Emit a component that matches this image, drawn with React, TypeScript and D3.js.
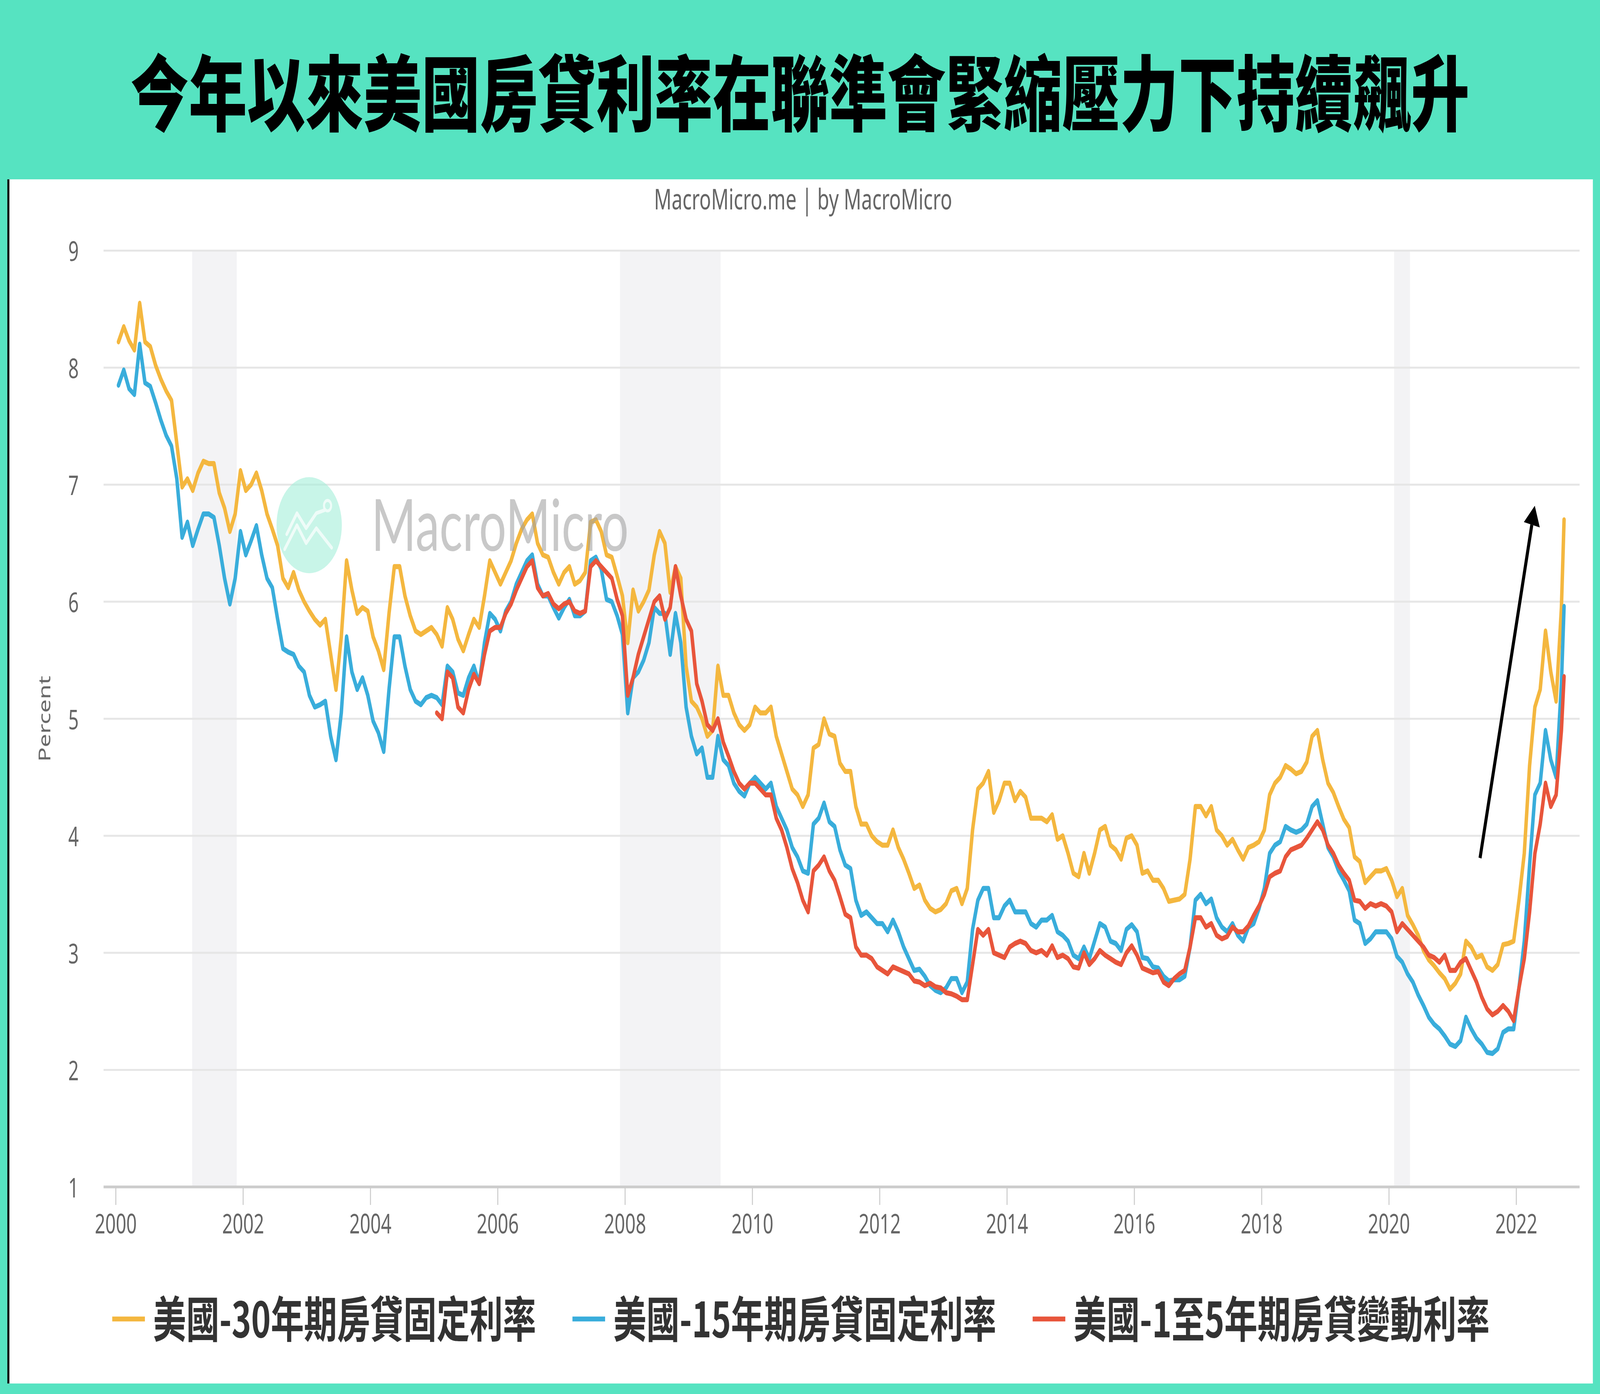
import React from 'react'
import * as d3 from 'd3'

// Freddie Mac PMMS monthly readings (mid-month)
const rate30 = [
  8.22, 8.35, 8.23, 8.15, 8.55, 8.22, 8.18, 8.02, 7.9, 7.8, 7.72, 7.35, // 2000
  6.98, 7.05, 6.95, 7.1, 7.2, 7.18, 7.18, 6.93, 6.8, 6.6, 6.75, 7.12, // 2001
  6.95, 7.0, 7.1, 6.95, 6.75, 6.62, 6.48, 6.2, 6.12, 6.25, 6.1, 6.0, // 2002
  5.92, 5.85, 5.8, 5.85, 5.55, 5.25, 5.7, 6.35, 6.1, 5.9, 5.95, 5.92, // 2003
  5.7, 5.58, 5.42, 5.9, 6.3, 6.3, 6.05, 5.88, 5.75, 5.72, 5.75, 5.78, // 2004
  5.72, 5.62, 5.95, 5.85, 5.68, 5.58, 5.72, 5.85, 5.78, 6.05, 6.35, 6.25, // 2005
  6.15, 6.25, 6.35, 6.5, 6.62, 6.7, 6.75, 6.5, 6.4, 6.38, 6.25, 6.15, // 2006
  6.25, 6.3, 6.15, 6.18, 6.25, 6.68, 6.7, 6.6, 6.4, 6.38, 6.22, 6.05, // 2007
  5.65, 6.1, 5.92, 6.0, 6.1, 6.4, 6.6, 6.5, 6.08, 6.3, 6.2, 5.45, // 2008
  5.15, 5.1, 5.0, 4.85, 4.9, 5.45, 5.2, 5.2, 5.05, 4.95, 4.9, 4.95, // 2009
  5.1, 5.05, 5.05, 5.1, 4.85, 4.7, 4.55, 4.4, 4.35, 4.25, 4.35, 4.75, // 2010
  4.78, 5.0, 4.87, 4.85, 4.62, 4.55, 4.55, 4.25, 4.1, 4.1, 4.0, 3.95, // 2011
  3.92, 3.92, 4.05, 3.9, 3.8, 3.68, 3.55, 3.58, 3.45, 3.38, 3.35, 3.37, // 2012
  3.42, 3.53, 3.55, 3.42, 3.55, 4.05, 4.4, 4.45, 4.55, 4.2, 4.3, 4.45, // 2013
  4.45, 4.3, 4.38, 4.33, 4.15, 4.15, 4.15, 4.12, 4.18, 3.97, 4.0, 3.85, // 2014
  3.68, 3.65, 3.85, 3.68, 3.85, 4.05, 4.08, 3.92, 3.88, 3.8, 3.98, 4.0, // 2015
  3.92, 3.68, 3.7, 3.62, 3.62, 3.55, 3.44, 3.45, 3.46, 3.5, 3.8, 4.25, // 2016
  4.25, 4.17, 4.25, 4.05, 4.0, 3.92, 3.97, 3.88, 3.8, 3.9, 3.92, 3.95, // 2017
  4.05, 4.35, 4.45, 4.5, 4.6, 4.57, 4.53, 4.55, 4.63, 4.85, 4.9, 4.65, // 2018
  4.45, 4.37, 4.25, 4.14, 4.07, 3.82, 3.78, 3.6, 3.65, 3.7, 3.7, 3.72, // 2019
  3.62, 3.48, 3.55, 3.32, 3.24, 3.15, 3.02, 2.94, 2.89, 2.83, 2.78, 2.69, // 2020
  2.74, 2.82, 3.1, 3.05, 2.96, 2.98, 2.88, 2.85, 2.9, 3.07, 3.08, 3.1, // 2021
  3.45, 3.85, 4.6, 5.1, 5.25, 5.75, 5.4, 5.15, 5.95, // 2022
]

const rate15 = [
  7.85, 7.98, 7.82, 7.77, 8.2, 7.87, 7.84, 7.7, 7.55, 7.42, 7.33, 7.05, // 2000
  6.55, 6.68, 6.48, 6.62, 6.75, 6.75, 6.72, 6.48, 6.2, 5.98, 6.2, 6.6, // 2001
  6.4, 6.52, 6.65, 6.4, 6.2, 6.12, 5.85, 5.6, 5.57, 5.55, 5.45, 5.4, // 2002
  5.2, 5.1, 5.12, 5.15, 4.85, 4.65, 5.05, 5.7, 5.4, 5.25, 5.35, 5.2, // 2003
  4.98, 4.88, 4.72, 5.25, 5.7, 5.7, 5.45, 5.25, 5.15, 5.12, 5.18, 5.2, // 2004
  5.18, 5.12, 5.45, 5.4, 5.22, 5.2, 5.35, 5.45, 5.3, 5.65, 5.9, 5.85, // 2005
  5.75, 5.92, 6.0, 6.15, 6.25, 6.35, 6.4, 6.15, 6.05, 6.05, 5.95, 5.86, // 2006
  5.95, 6.02, 5.88, 5.88, 5.92, 6.35, 6.38, 6.28, 6.02, 6.0, 5.88, 5.72, // 2007
  5.05, 5.35, 5.4, 5.5, 5.65, 5.95, 5.9, 5.9, 5.55, 5.9, 5.65, 5.1, // 2008
  4.85, 4.7, 4.75, 4.5, 4.5, 4.85, 4.65, 4.6, 4.45, 4.38, 4.34, 4.45, // 2009
  4.5, 4.45, 4.4, 4.45, 4.25, 4.15, 4.05, 3.9, 3.82, 3.7, 3.68, 4.1, // 2010
  4.15, 4.28, 4.12, 4.08, 3.88, 3.75, 3.72, 3.45, 3.32, 3.35, 3.3, 3.25, // 2011
  3.25, 3.18, 3.28, 3.18, 3.05, 2.95, 2.85, 2.86, 2.8, 2.72, 2.68, 2.66, // 2012
  2.7, 2.78, 2.78, 2.66, 2.75, 3.2, 3.45, 3.55, 3.55, 3.3, 3.3, 3.4, // 2013
  3.45, 3.35, 3.35, 3.35, 3.25, 3.22, 3.28, 3.28, 3.32, 3.18, 3.15, 3.1, // 2014
  2.98, 2.95, 3.05, 2.95, 3.1, 3.25, 3.22, 3.1, 3.08, 3.02, 3.2, 3.24, // 2015
  3.18, 2.96, 2.95, 2.88, 2.87, 2.8, 2.76, 2.77, 2.77, 2.8, 3.05, 3.45, // 2016
  3.5, 3.42, 3.46, 3.3, 3.22, 3.18, 3.25, 3.15, 3.1, 3.22, 3.25, 3.38, // 2017
  3.55, 3.85, 3.92, 3.95, 4.08, 4.05, 4.03, 4.05, 4.1, 4.25, 4.3, 4.1, // 2018
  3.9, 3.82, 3.7, 3.62, 3.53, 3.28, 3.25, 3.08, 3.12, 3.18, 3.18, 3.18, // 2019
  3.12, 2.97, 2.92, 2.82, 2.75, 2.64, 2.55, 2.45, 2.39, 2.35, 2.29, 2.22, // 2020
  2.2, 2.25, 2.45, 2.35, 2.27, 2.22, 2.15, 2.14, 2.18, 2.32, 2.35, 2.35, // 2021
  2.7, 3.1, 3.75, 4.35, 4.45, 4.9, 4.65, 4.5, 5.3, // 2022
]

// 5/1 ARM series starts in January 2005
const rateArm = [
  5.05, 5.0, 5.4, 5.35, 5.1, 5.05, 5.25, 5.38, 5.3, 5.55, 5.75, 5.78, // 2005
  5.78, 5.9, 5.98, 6.1, 6.2, 6.3, 6.35, 6.12, 6.05, 6.07, 5.98, 5.94, // 2006
  5.98, 6.0, 5.92, 5.9, 5.92, 6.3, 6.35, 6.3, 6.25, 6.2, 6.02, 5.88, // 2007
  5.2, 5.35, 5.55, 5.7, 5.85, 6.0, 6.05, 5.85, 5.95, 6.3, 6.05, 5.85, // 2008
  5.75, 5.3, 5.15, 4.95, 4.9, 5.0, 4.8, 4.68, 4.55, 4.45, 4.4, 4.45, // 2009
  4.45, 4.4, 4.35, 4.35, 4.15, 4.05, 3.9, 3.72, 3.6, 3.45, 3.35, 3.7, // 2010
  3.75, 3.82, 3.7, 3.62, 3.48, 3.33, 3.3, 3.05, 2.98, 2.98, 2.95, 2.88, // 2011
  2.85, 2.82, 2.88, 2.86, 2.84, 2.82, 2.76, 2.75, 2.72, 2.74, 2.71, 2.7, // 2012
  2.66, 2.65, 2.63, 2.6, 2.6, 2.9, 3.2, 3.15, 3.2, 3.0, 2.98, 2.96, // 2013
  3.05, 3.08, 3.1, 3.08, 3.02, 3.0, 3.02, 2.98, 3.06, 2.96, 2.98, 2.95, // 2014
  2.88, 2.87, 3.0, 2.9, 2.95, 3.02, 2.98, 2.95, 2.92, 2.9, 3.0, 3.06, // 2015
  2.98, 2.87, 2.85, 2.83, 2.84, 2.75, 2.72, 2.78, 2.82, 2.85, 3.05, 3.3, // 2016
  3.3, 3.22, 3.25, 3.15, 3.12, 3.14, 3.22, 3.18, 3.18, 3.23, 3.32, 3.4, // 2017
  3.5, 3.65, 3.68, 3.7, 3.82, 3.88, 3.9, 3.92, 3.98, 4.05, 4.12, 4.05, // 2018
  3.92, 3.85, 3.75, 3.68, 3.62, 3.45, 3.44, 3.38, 3.42, 3.4, 3.42, 3.4, // 2019
  3.35, 3.18, 3.25, 3.2, 3.15, 3.1, 3.05, 2.98, 2.96, 2.92, 2.98, 2.85, // 2020
  2.85, 2.92, 2.95, 2.85, 2.75, 2.62, 2.52, 2.47, 2.5, 2.55, 2.5, 2.42, // 2021
  2.7, 2.95, 3.35, 3.85, 4.1, 4.45, 4.25, 4.35, 4.9, // 2022
]

// last weekly print (end of September 2022)
const lastDate = 2022.75
const lastValues = [6.7, 5.96, 5.36]

const seriesNames = ['美國-30年期房貸固定利率', '美國-15年期房貸固定利率', '美國-1至5年期房貸變動利率']
const seriesColors = ['#f4b73f', '#39addb', '#e8553b']
const seriesStart = [2000, 2000, 2005]

const recessions = [
  [2001.2, 2001.9],
  [2007.92, 2009.5],
  [2020.08, 2020.33],
]

const yearTicks = [2000, 2002, 2004, 2006, 2008, 2010, 2012, 2014, 2016, 2018, 2020, 2022]
const yTicks = [1, 2, 3, 4, 5, 6, 7, 8, 9]

const W = 1568
const H = 929
const GREEN = '#56e3c1'
const sans = '"Noto Sans", "Open Sans", sans-serif'
const cjk = '"Noto Sans CJK TC", "Noto Sans CJK SC", sans-serif'

const x = d3.scaleLinear().domain([2000, 2022]).range([113.5, 1486])
const y = d3.scaleLinear().domain([1, 9]).range([791, 167])

type Pt = { t: number; v: number }

const toPoints = (vals: number[], start: number, last: number): Pt[] => {
  const pts = vals.map((v, i) => ({ t: start + (i + 0.5) / 12, v }))
  pts.push({ t: lastDate, v: last })
  return pts
}

const allSeries = [rate30, rate15, rateArm].map((vals, i) => toPoints(vals, seriesStart[i], lastValues[i]))

const line = d3
  .line<Pt>()
  .x((d) => x(d.t))
  .y((d) => y(d.v))

export default function App() {
  const legendX = [110, 561, 1012]

  // annotation arrow in data coordinates
  const a0 = [x(2021.43), y(3.81)]
  const a1 = [x(2022.29), y(6.82)]
  const ang = Math.atan2(a1[1] - a0[1], a1[0] - a0[0])
  const headLen = 13
  const headW = 8
  const hb = [a1[0] - headLen * Math.cos(ang), a1[1] - headLen * Math.sin(ang)]
  const head = [
    a1,
    [hb[0] + headW * Math.sin(ang), hb[1] - headW * Math.cos(ang)],
    [hb[0] - headW * Math.sin(ang), hb[1] + headW * Math.cos(ang)],
  ]

  return (
    <svg
      viewBox={`0 0 ${W} ${H}`}
      preserveAspectRatio="none"
      style={{ position: 'fixed', left: 0, top: 0, width: '100vw', height: '100vh', display: 'block' }}
    >
      <rect x={0} y={0} width={W} height={H} fill={GREEN} />
      <rect x={8} y={119.5} width={1553} height={802.5} fill="#ffffff" />
      <rect x={7.2} y={119.5} width={2} height={802.5} fill="#000000" />

      <text
        x={784}
        y={59}
        textAnchor="middle"
        dominantBaseline="central"
        fontFamily={cjk}
        fontWeight={900}
        fontSize={55}
        fill="#000"
        textLength={1312}
        lengthAdjust="spacingAndGlyphs"
      >
        今年以來美國房貸利率在聯準會緊縮壓力下持續飆升
      </text>

      <text x={787} y={139.5} textAnchor="middle" fontFamily={sans} fontSize={19} fill="#666">
        MacroMicro.me | by MacroMicro
      </text>

      {/* recession shading */}
      {recessions.map(([a, b], i) => (
        <rect key={i} x={x(a)} y={y(9)} width={x(b) - x(a)} height={y(1) - y(9)} fill="#f3f3f5" />
      ))}

      {/* grid */}
      {yTicks.map((t) => (
        <g key={t}>
          {t > 1 && <line x1={101.5} x2={1548} y1={y(t)} y2={y(t)} stroke="#e6e6e6" strokeWidth={1.3} />}
          <text
            x={72}
            y={y(t)}
            textAnchor="middle"
            dominantBaseline="central"
            fontFamily={sans}
            fontSize={18}
            fill="#666"
          >
            {t}
          </text>
        </g>
      ))}
      <line x1={101.5} x2={1548} y1={y(1)} y2={y(1)} stroke="#cccccc" strokeWidth={1.8} />
      {yearTicks.map((t) => (
        <g key={t}>
          <line x1={x(t)} x2={x(t)} y1={y(1)} y2={y(1) + 12} stroke="#cccccc" strokeWidth={1} />
          <text
            x={x(t)}
            y={815}
            textAnchor="middle"
            dominantBaseline="central"
            fontFamily={sans}
            fontSize={18}
            fill="#666"
          >
            {t}
          </text>
        </g>
      ))}
      <text
        transform="translate(43,479) rotate(-90)"
        textAnchor="middle"
        dominantBaseline="central"
        fontFamily={sans}
        fontSize={16}
        fill="#666"
      >
        Percent
      </text>

      {/* series */}
      {allSeries.map((pts, i) => (
        <path
          key={i}
          d={line(pts) || ''}
          fill="none"
          stroke={seriesColors[i]}
          strokeWidth={3.4}
          strokeLinejoin="round"
          strokeLinecap="round"
        />
      ))}

      {/* watermark */}
      <g>
        <circle cx={303} cy={350} r={32} fill="#a4efd9" opacity={0.6} />
        <g opacity={0.7}>
          <path
            d="M281,356 L291,342 L300,352 L310,342 L318,340 M279,366 L291,350 L300,362 L310,352 L325,365"
            fill="none"
            stroke="#ffffff"
            strokeWidth={2.5}
            strokeLinejoin="round"
            strokeLinecap="round"
          />
          <circle cx={321} cy={337} r={3.5} fill="none" stroke="#ffffff" strokeWidth={2} />
        </g>
        <text
          x={364}
          y={367}
          fontFamily='Lato, "Noto Sans", sans-serif'
          fontSize={48}
          fill="#a0a0a0"
          opacity={0.58}
          textLength={252}
          lengthAdjust="spacingAndGlyphs"
        >
          MacroMicro
        </text>
      </g>

      {/* arrow annotation */}
      <line x1={a0[0]} y1={a0[1]} x2={hb[0]} y2={hb[1]} stroke="#000" strokeWidth={3} />
      <polygon points={head.map((p) => p.join(',')).join(' ')} fill="#000" />

      {/* legend */}
      {seriesNames.map((name, i) => (
        <g key={name} transform={`translate(${legendX[i]},877)`}>
          <line x1={0} x2={32} y1={2} y2={2} stroke={seriesColors[i]} strokeWidth={3.3} />
          <text
            x={40}
            y={0}
            dominantBaseline="central"
            fontFamily={cjk}
            fontWeight={700}
            fontSize={32.5}
            fill="#333"
          >
            {name}
          </text>
        </g>
      ))}
    </svg>
  )
}
